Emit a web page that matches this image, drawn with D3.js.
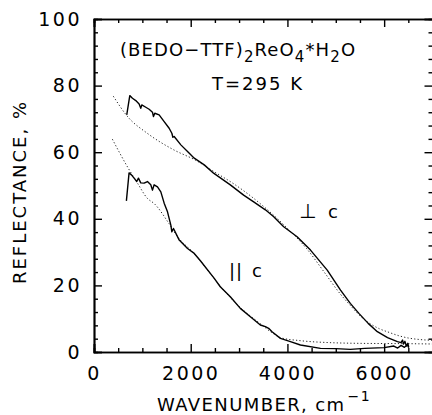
<!DOCTYPE html>
<html>
<head>
<meta charset="utf-8">
<script src="https://cdn.jsdelivr.net/npm/d3@7"></script>
<style>
  body { margin: 0; background: #fff; }
  text { font-family: "DejaVu Sans", sans-serif; fill: #000; }
</style>
</head>
<body>
<div id="chart"></div>
<script>
// measured reflectance, E perpendicular to c
var perpWn = [677, 740, 795, 864, 933, 967, 988, 1071, 1140, 1209, 1230, 1257, 1347, 1451, 1554, 1610, 1631, 1658, 1796, 1934, 2073, 2280, 2473, 2819, 3094, 3302, 3544, 3717, 3923, 4200, 4477, 4823, 5098, 5300, 5478, 5670, 5859, 6070, 6274, 6350, 6380, 6400, 6430, 6460, 6490, 6508];
var perpR  = [71.2, 77.0, 76.2, 75.5, 74.5, 73.2, 74.2, 73.5, 72.9, 72.0, 70.7, 71.7, 71.2, 69.2, 67.2, 65.7, 64.5, 64.7, 62.2, 60.2, 58.2, 56.2, 53.7, 50.2, 47.1, 45.1, 42.7, 40.6, 37.6, 34.6, 30.6, 24.6, 18.6, 14.6, 11.6, 8.6, 6.1, 4.3, 3.1, 2.8, 3.6, 2.4, 3.2, 1.8, 2.6, 1.5];

// measured reflectance, E parallel to c
var parWn = [670, 725, 774, 829, 884, 919, 967, 1036, 1105, 1174, 1209, 1244, 1313, 1382, 1451, 1520, 1589, 1610, 1644, 1762, 1934, 2073, 2200, 2487, 2611, 2819, 3026, 3233, 3440, 3544, 3612, 3682, 3855, 4062, 4269, 4684, 5000, 5300, 5600, 6000, 6200, 6280, 6350, 6420, 6480, 6508];
var parR  = [45.4, 53.8, 53.2, 52.2, 51.2, 52.2, 50.8, 50.7, 51.2, 50.2, 48.6, 50.2, 49.6, 48.1, 44.7, 42.1, 38.1, 36.1, 37.1, 33.6, 31.1, 29.6, 27.4, 22.1, 19.6, 16.6, 13.1, 10.6, 8.1, 7.6, 7.1, 6.1, 4.1, 3.1, 2.1, 1.1, 1.0, 0.8, 1.1, 1.3, 1.8, 1.2, 2.0, 1.4, 2.2, 1.3];

// Drude fits (dotted)
var perpFitWn = [400, 700, 1100, 1650, 2100, 2500, 2900, 3500, 4050, 4400, 4750, 5100, 5300, 5500, 5700, 5900, 6100, 6300, 6500, 6700, 7000];
var perpFitR  = [76.8, 70.6, 65.7, 60.7, 57.6, 54.0, 50.4, 43.8, 36.4, 31.0, 24.2, 17.3, 14.0, 10.9, 8.6, 7.0, 5.9, 4.9, 4.2, 3.8, 3.5];
var parFitWn = [380, 700, 900, 1100, 1250, 1550, 1730, 2070, 2350, 2610, 3030, 3440, 3700, 3860, 4270, 4900, 5500, 6500, 7000];
var parFitR  = [63.9, 55.4, 50.7, 46.2, 44.5, 38.6, 34.6, 29.6, 24.6, 19.8, 13.3, 8.5, 5.6, 4.3, 3.4, 2.8, 2.6, 2.5, 2.4];

var xMajor = [0, 2000, 4000, 6000];
var yMajor = [0, 20, 40, 60, 80, 100];

var width = 432, height = 415;
var padL = 94, padR = 432.5, padT = 19, padB = 352;

var svg = d3.select("#chart").append("svg")
    .attr("width", width)
    .attr("height", height);

var x = d3.scaleLinear().domain([0, 7000]).range([padL, padR]);
var y = d3.scaleLinear().domain([0, 100]).range([padB, padT]);

var xMinor = d3.range(0, 7001, 500).filter(function(d){ return xMajor.indexOf(d) < 0; });
var yMinor = d3.range(0, 101, 4).filter(function(d){ return yMajor.indexOf(d) < 0; });

function styleAxis(g) {
    g.selectAll("path").attr("stroke", "#000").attr("stroke-width", 1.7);
    g.selectAll("line").attr("stroke", "#000").attr("stroke-width", 1.4);
    g.selectAll("text").style("font-size", "19px").style("letter-spacing", "2.5px")
        .style("font-family", "DejaVu Sans, sans-serif").attr("fill", "#000");
}

// bottom
svg.append("g").attr("transform", "translate(0," + padB + ")")
    .call(d3.axisBottom(x).tickValues(xMajor).tickSize(-8).tickPadding(15).tickFormat(d3.format("d")))
    .call(styleAxis);
svg.append("g").attr("transform", "translate(0," + padB + ")")
    .call(d3.axisBottom(x).tickValues(xMinor).tickSize(-4).tickFormat(""))
    .call(styleAxis);
// top
svg.append("g").attr("transform", "translate(0," + padT + ")")
    .call(d3.axisTop(x).tickValues(xMajor).tickSize(-8).tickFormat(""))
    .call(styleAxis);
svg.append("g").attr("transform", "translate(0," + padT + ")")
    .call(d3.axisTop(x).tickValues(xMinor).tickSize(-4).tickFormat(""))
    .call(styleAxis);
// left
svg.append("g").attr("transform", "translate(" + padL + ",0)")
    .call(d3.axisLeft(y).tickValues(yMajor).tickSize(-8).tickPadding(12))
    .call(styleAxis);
svg.append("g").attr("transform", "translate(" + padL + ",0)")
    .call(d3.axisLeft(y).tickValues(yMinor).tickSize(-4).tickFormat(""))
    .call(styleAxis);
// right
svg.append("g").attr("transform", "translate(" + padR + ",0)")
    .call(d3.axisRight(y).tickValues(yMajor).tickSize(-8).tickFormat(""))
    .call(styleAxis);
svg.append("g").attr("transform", "translate(" + padR + ",0)")
    .call(d3.axisRight(y).tickValues(yMinor).tickSize(-4).tickFormat(""))
    .call(styleAxis);

function pts(xs, ys) {
    return xs.map(function(d, i){ return [d, ys[i]]; });
}

var line = d3.line().x(function(d){ return x(d[0]); }).y(function(d){ return y(d[1]); });
var smooth = d3.line().curve(d3.curveMonotoneX).x(function(d){ return x(d[0]); }).y(function(d){ return y(d[1]); });

var plot = svg.append("g");

plot.append("path").datum(pts(perpFitWn, perpFitR)).attr("d", smooth)
    .attr("fill", "none").attr("stroke", "#222").attr("stroke-width", 1).attr("stroke-dasharray", "1.2,2.2");
plot.append("path").datum(pts(parFitWn, parFitR)).attr("d", smooth)
    .attr("fill", "none").attr("stroke", "#222").attr("stroke-width", 1).attr("stroke-dasharray", "1.2,2.2");

plot.append("path").datum(pts(perpWn, perpR)).attr("d", line)
    .attr("fill", "none").attr("stroke", "#000").attr("stroke-width", 1.4).attr("stroke-linejoin", "round");
plot.append("path").datum(pts(parWn, parR)).attr("d", line)
    .attr("fill", "none").attr("stroke", "#000").attr("stroke-width", 1.4).attr("stroke-linejoin", "round");

// labels
var fs = "18px";
var title = svg.append("text").attr("x", 120).attr("y", 56)
    .style("font-size", fs).style("letter-spacing", "1.1px");
title.append("tspan").text("(BEDO\u2212TTF)");
title.append("tspan").attr("dy", 6).style("font-size", "15px").text("2");
title.append("tspan").attr("dy", -6).text("ReO");
title.append("tspan").attr("dy", 6).style("font-size", "15px").text("4");
title.append("tspan").attr("dy", -6).text("*H");
title.append("tspan").attr("dy", 6).style("font-size", "15px").text("2");
title.append("tspan").attr("dy", -6).text("O");

svg.append("text").attr("x", 212).attr("y", 90)
    .style("font-size", fs).style("letter-spacing", "2px").text("T=295  K");

svg.append("text").attr("x", 299).attr("y", 218)
    .style("font-size", "20px").text("\u22a5");
svg.append("text").attr("x", 328).attr("y", 218)
    .style("font-size", fs).text("c");
svg.append("text").attr("x", 229).attr("y", 277)
    .style("font-size", fs).style("letter-spacing", "1px").text("||");
svg.append("text").attr("x", 252).attr("y", 277)
    .style("font-size", fs).text("c");

var xl = svg.append("text").attr("x", 157).attr("y", 411)
    .style("font-size", fs).style("letter-spacing", "1.4px");
xl.append("tspan").text("WAVENUMBER,  cm");
xl.append("tspan").attr("dy", -10).attr("dx", 2).style("font-size", "14px").text("\u22121");

svg.append("text")
    .attr("transform", "translate(26,192) rotate(-90)")
    .attr("text-anchor", "middle")
    .style("font-size", fs).style("letter-spacing", "2px")
    .text("REFLECTANCE,  %");
</script>
</body>
</html>
